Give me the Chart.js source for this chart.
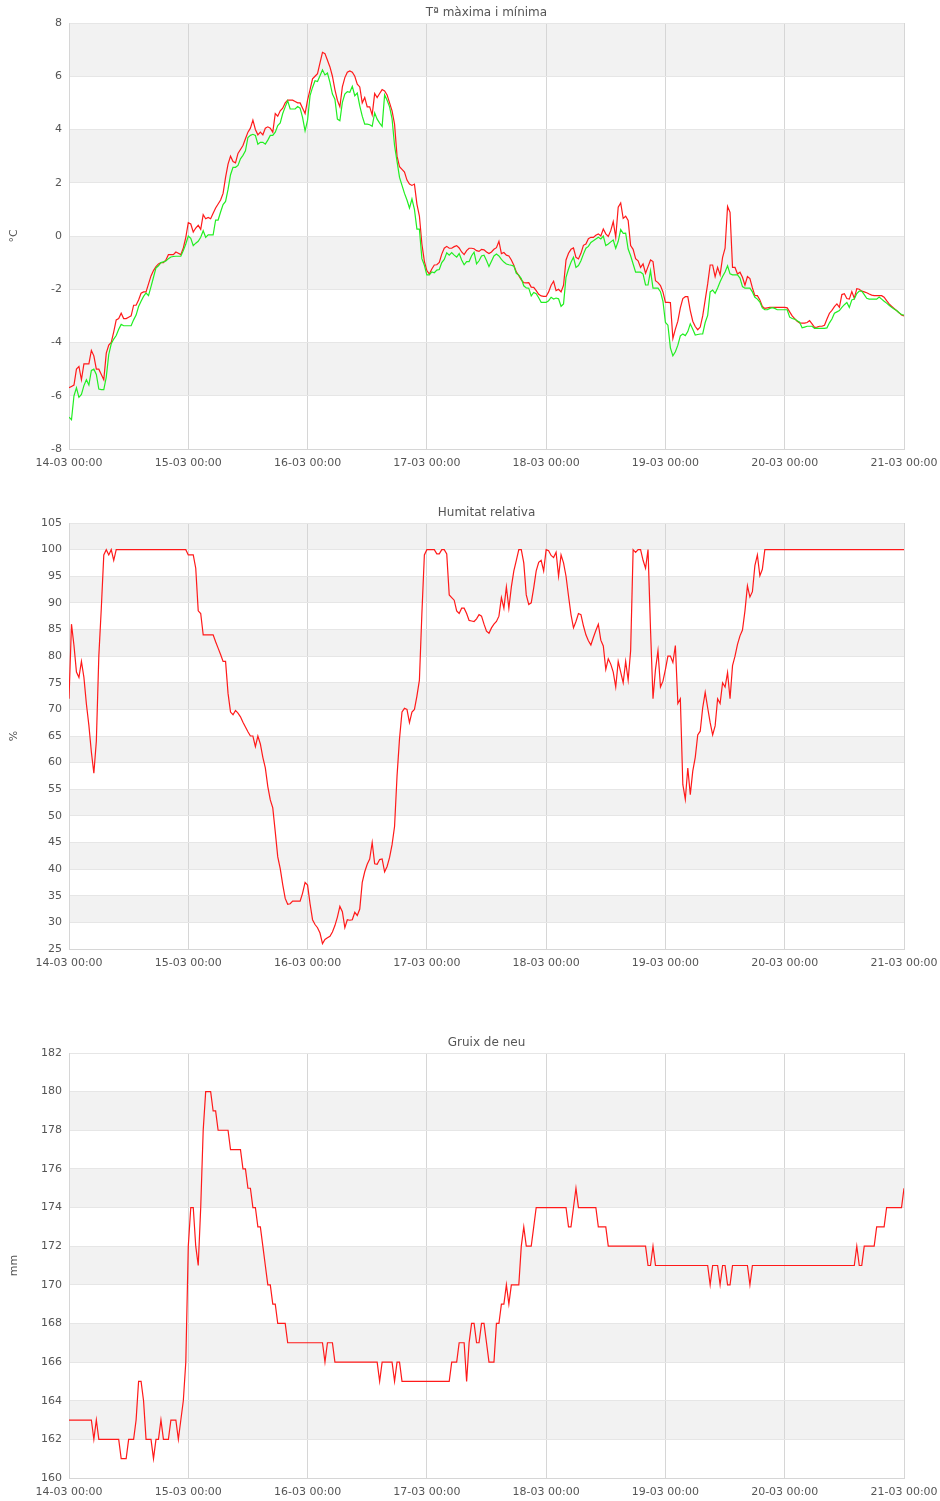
<!DOCTYPE html>
<html>
<head>
<meta charset="utf-8">
<title>Dades meteorològiques</title>
<script src="https://cdn.jsdelivr.net/npm/chart.js@4.4.1/dist/chart.umd.min.js"></script>
<style>
  body { margin: 0; background: #fff; }
  canvas { position: absolute; left: 0; }
</style>
</head>
<body>
<canvas id="tempChart" width="940" height="472" style="top:0"></canvas>
<canvas id="humChart" width="940" height="472" style="top:500px"></canvas>
<canvas id="snowChart" width="940" height="471" style="top:1030px"></canvas>
<script>
// one value every 30 minutes, from 14-03 00:00 to 21-03 00:00
const dayLabels = ['14-03 00:00', '15-03 00:00', '16-03 00:00', '17-03 00:00',
  '18-03 00:00', '19-03 00:00', '20-03 00:00', '21-03 00:00'];

const tempMax = [
  -5.7,-5.65,-5.6,-5.0,-4.9,-5.4,-4.8,-4.8,-4.8,-4.3,-4.5,-5.0,-5.0,-5.2,-5.4,-4.4,-4.1,-4.0,-3.6,-3.15,-3.1,-2.9,-3.1,-3.1,-3.05,-3.0,-2.6,-2.6,-2.4,-2.15,-2.1,-2.1,-1.8,-1.5,-1.3,-1.15,-1.05,-1.0,-1.0,-0.9,-0.7,-0.7,-0.7,-0.6,-0.65,-0.7,-0.45,-0.05,
  0.5,0.45,0.15,0.3,0.4,0.25,0.8,0.65,0.7,0.65,0.85,1.05,1.2,1.35,1.6,2.2,2.7,3.0,2.8,2.75,3.1,3.25,3.4,3.65,3.9,4.05,4.35,4.0,3.8,3.9,3.8,4.05,4.1,4.05,3.9,4.6,4.5,4.7,4.8,5.0,5.1,5.1,5.1,5.05,5.0,5.0,4.8,4.6,
  5.1,5.5,5.9,6.0,6.1,6.5,6.9,6.85,6.6,6.35,6.0,5.5,5.1,4.85,5.6,5.95,6.15,6.2,6.15,6.0,5.7,5.6,5.0,5.2,4.85,4.85,4.55,5.35,5.2,5.35,5.5,5.45,5.3,5.0,4.7,4.2,3.0,2.6,2.5,2.4,2.1,1.95,1.9,1.95,1.2,0.75,-0.3,-0.95,
  -1.3,-1.43,-1.24,-1.09,-1.08,-0.99,-0.68,-0.46,-0.39,-0.46,-0.46,-0.4,-0.36,-0.45,-0.6,-0.7,-0.55,-0.46,-0.46,-0.48,-0.55,-0.58,-0.5,-0.52,-0.6,-0.66,-0.6,-0.5,-0.44,-0.2,-0.66,-0.62,-0.72,-0.75,-0.9,-1.1,-1.35,-1.49,-1.65,-1.75,-1.76,-1.75,-1.92,-1.93,-2.05,-2.19,-2.25,-2.27,
  -2.27,-2.1,-1.85,-1.7,-2.05,-2.0,-2.1,-1.85,-0.9,-0.65,-0.5,-0.45,-0.8,-0.86,-0.65,-0.35,-0.3,-0.1,-0.05,-0.05,0.03,0.08,0.0,0.26,0.08,-0.02,0.2,0.54,-0.05,1.08,1.24,0.66,0.74,0.58,-0.36,-0.5,-0.85,-0.93,-1.18,-1.05,-1.4,-1.15,-0.9,-0.96,-1.68,-1.75,-1.86,-2.1,
  -2.49,-2.49,-2.5,-3.85,-3.5,-3.2,-2.7,-2.35,-2.28,-2.28,-2.8,-3.2,-3.4,-3.52,-3.42,-3.0,-2.4,-1.8,-1.09,-1.09,-1.53,-1.18,-1.46,-0.8,-0.46,1.11,0.89,-1.18,-1.18,-1.43,-1.36,-1.55,-1.85,-1.52,-1.6,-1.95,-2.24,-2.24,-2.4,-2.65,-2.72,-2.7,-2.68,-2.68,-2.68,-2.68,-2.68,-2.68,
  -2.68,-2.7,-2.85,-3.0,-3.1,-3.2,-3.26,-3.27,-3.27,-3.25,-3.18,-3.3,-3.43,-3.42,-3.39,-3.39,-3.35,-3.12,-2.9,-2.79,-2.65,-2.55,-2.68,-2.2,-2.17,-2.35,-2.37,-2.09,-2.34,-1.98,-2.0,-2.07,-2.1,-2.13,-2.18,-2.22,-2.24,-2.24,-2.24,-2.24,-2.3,-2.43,-2.55,-2.64,-2.72,-2.8,-2.88,-2.97,-3.0
];

const tempMin = [
  -6.8,-6.9,-6.0,-5.7,-6.06,-5.95,-5.62,-5.4,-5.6,-5.05,-5.0,-5.2,-5.75,-5.77,-5.77,-5.3,-4.45,-4.05,-3.87,-3.74,-3.5,-3.32,-3.37,-3.37,-3.37,-3.37,-3.15,-2.97,-2.65,-2.45,-2.27,-2.14,-2.24,-1.9,-1.55,-1.2,-1.12,-1.0,-0.97,-0.94,-0.85,-0.79,-0.77,-0.76,-0.76,-0.76,-0.55,-0.3,
  0.0,-0.09,-0.36,-0.27,-0.2,-0.05,0.2,-0.05,0.04,0.04,0.04,0.6,0.6,0.9,1.18,1.3,1.75,2.3,2.58,2.58,2.65,2.9,3.03,3.2,3.7,3.78,3.82,3.78,3.45,3.52,3.52,3.45,3.6,3.78,3.78,3.9,4.15,4.25,4.6,4.85,5.08,4.77,4.77,4.77,4.86,4.8,4.45,3.95,
  4.35,5.27,5.58,5.83,5.8,6.02,6.24,6.05,6.12,5.77,5.33,5.14,4.39,4.33,5.02,5.33,5.42,5.4,5.62,5.27,5.37,4.89,4.5,4.2,4.2,4.18,4.12,4.62,4.39,4.24,4.12,5.3,5.1,4.85,4.4,3.4,2.8,2.2,1.9,1.6,1.35,1.05,1.39,1.0,0.26,0.26,-0.85,-1.1,
  -1.46,-1.46,-1.35,-1.38,-1.28,-1.26,-1.0,-0.88,-0.63,-0.72,-0.62,-0.72,-0.79,-0.66,-0.9,-1.08,-0.96,-0.96,-0.74,-0.61,-1.05,-0.93,-0.75,-0.72,-0.92,-1.15,-0.95,-0.75,-0.68,-0.75,-0.88,-0.98,-1.05,-1.08,-1.1,-1.13,-1.4,-1.47,-1.6,-1.87,-1.95,-1.96,-2.25,-2.12,-2.17,-2.32,-2.49,-2.49,
  -2.49,-2.43,-2.3,-2.37,-2.33,-2.36,-2.64,-2.55,-1.55,-1.24,-0.99,-0.8,-1.18,-1.11,-0.93,-0.68,-0.46,-0.39,-0.24,-0.18,-0.11,-0.05,-0.11,0.0,-0.36,-0.3,-0.22,-0.15,-0.46,-0.2,0.24,0.1,0.11,-0.49,-0.74,-1.05,-1.36,-1.36,-1.36,-1.43,-1.84,-1.84,-1.3,-1.96,-1.96,-1.96,-2.09,-2.45,
  -3.25,-3.35,-4.2,-4.5,-4.35,-4.1,-3.75,-3.68,-3.74,-3.59,-3.3,-3.5,-3.72,-3.7,-3.68,-3.68,-3.25,-2.98,-2.1,-2.03,-2.15,-1.95,-1.72,-1.52,-1.35,-1.12,-1.42,-1.46,-1.46,-1.46,-1.58,-1.9,-1.96,-1.96,-1.96,-2.1,-2.3,-2.37,-2.48,-2.7,-2.77,-2.77,-2.72,-2.69,-2.72,-2.77,-2.77,-2.77,
  -2.77,-2.77,-3.05,-3.1,-3.12,-3.18,-3.24,-3.45,-3.42,-3.39,-3.39,-3.39,-3.47,-3.47,-3.47,-3.47,-3.47,-3.45,-3.26,-3.12,-2.9,-2.85,-2.8,-2.68,-2.58,-2.5,-2.68,-2.4,-2.37,-2.16,-2.07,-2.07,-2.2,-2.34,-2.37,-2.37,-2.37,-2.37,-2.29,-2.37,-2.45,-2.52,-2.6,-2.68,-2.74,-2.8,-2.88,-2.95,-2.97
];

const humidity = [
  72,86,82,77,76,79,76,71,67,62,58,64,80,89,99,100,99,100,98,100,100,100,100,100,100,100,100,100,100,100,100,100,100,100,100,100,100,100,100,100,100,100,100,100,100,100,100,100,
  99,99,99,96.5,88.5,88,84,84,84,84,84,82.7,81.5,80.3,79,79,73,69.5,69,69.8,69.3,68.6,67.6,66.7,65.8,65,65,63,65,63.5,61,59,55.5,53,51.5,47,42.3,40.1,37.1,34.5,33.4,33.5,34,34,34,34,35.5,37.5,
  37,33.5,30.5,29.6,29,28,26,26.8,27.1,27.4,28.2,29.4,31,33,32,29,30.5,30.4,30.5,31.9,31.3,32.5,37.5,39.5,40.9,41.9,45,41,40.9,41.8,41.9,39.5,40.5,42.2,44.6,48,57.5,64.5,69.5,70.2,70,67.5,69.5,70,72.5,75.5,88,99,
  100,100,100,100,99.2,99.2,100,100,99.2,91.5,91,90.5,88.5,88,89,89,88,86.7,86.6,86.5,87,87.8,87.5,86,84.7,84.3,85.3,86,86.5,87.5,91,89,93,89,93,96,98,100,100,97.5,91.5,89.7,90,92.8,96,97.6,98,96,
  100,99.8,98.9,98.5,99.5,95,99,97.5,95,91.3,87.8,85.3,86.5,88,87.8,85.7,84,82.9,82.1,83.5,84.8,86,83,81.9,77.5,79.5,78.5,77,74.2,79,77,75,79,75.5,81,100,99.5,100,100,98,96.5,100,85,72,77.5,81,74.2,75.3,
  77.5,80,80,78.8,82,71.1,72,55.9,53.1,59,54,58.4,61,65.2,65.9,70.3,73.2,70.3,67.5,65.2,66.9,72,71.1,75,74.2,76.9,72,78.2,80,82.2,83.8,84.9,88.5,93.2,91.1,92.1,97,99,95.1,96.3,100,100,100,100,100,100,100,100,
  100,100,100,100,100,100,100,100,100,100,100,100,100,100,100,100,100,100,100,100,100,100,100,100,100,100,100,100,100,100,100,100,100,100,100,100,100,100,100,100,100,100,100,100,100,100,100,100,100
];

const snowDepth = [
  163,163,163,163,163,163,163,163,163,163,162,163,162,162,162,162,162,162,162,162,162,161,161,161,162,162,162,163,165,165,164,162,162,162,161,162,162,163,162,162,162,163,163,163,162,163,164,166,
  172,174,174,172,171,174,178,180,180,180,179,179,178,178,178,178,178,177,177,177,177,177,176,176,175,175,174,174,173,173,172,171,170,170,169,169,168,168,168,168,167,167,167,167,167,167,167,167,
  167,167,167,167,167,167,167,166,167,167,167,166,166,166,166,166,166,166,166,166,166,166,166,166,166,166,166,166,166,165,166,166,166,166,166,165,166,166,165,165,165,165,165,165,165,165,165,165,
  165,165,165,165,165,165,165,165,165,165,166,166,166,167,167,167,165,167,168,168,167,167,168,168,167,166,166,166,168,168,169,169,170,169,170,170,170,170,172,173,172,172,172,173,174,174,174,174,
  174,174,174,174,174,174,174,174,174,173,173,174,175,174,174,174,174,174,174,174,174,173,173,173,173,172,172,172,172,172,172,172,172,172,172,172,172,172,172,172,172,171,171,172,171,171,171,171,
  171,171,171,171,171,171,171,171,171,171,171,171,171,171,171,171,171,171,170,171,171,171,170,171,171,170,170,171,171,171,171,171,171,171,170,171,171,171,171,171,171,171,171,171,171,171,171,171,
  171,171,171,171,171,171,171,171,171,171,171,171,171,171,171,171,171,171,171,171,171,171,171,171,171,171,171,171,171,172,171,171,172,172,172,172,172,173,173,173,173,174,174,174,174,174,174,174,175
];

// hours since 14-03 00:00 for each sample
const hours = tempMax.map((_, i) => i / 2);

Chart.defaults.font.family = 'DejaVu Sans';
Chart.defaults.animation = false;

// alternate grey bands between the y ticks
const bandsPlugin = {
  id: 'bands',
  beforeDraw(chart) {
    const { ctx, chartArea, scales } = chart;
    const y = scales.y;
    ctx.save();
    ctx.fillStyle = '#f2f2f2';
    for (let i = 1; i < y.ticks.length - 1; i += 2) {
      const top = y.getPixelForValue(y.ticks[i + 1].value);
      const bottom = y.getPixelForValue(y.ticks[i].value);
      ctx.fillRect(chartArea.left, top, chartArea.right - chartArea.left, bottom - top);
    }
    ctx.restore();
  }
};

function makeChart(id, title, yTitle, yMin, yMax, yStep, datasets) {
  return new Chart(document.getElementById(id), {
    type: 'line',
    data: { labels: hours, datasets: datasets },
    options: {
      responsive: false,
      layout: { padding: { left: 0, right: 36, top: 0, bottom: 0 } },
      elements: {
        point: { radius: 0 },
        line: { borderWidth: 1.2, tension: 0 }
      },
      plugins: {
        legend: { display: false },
        tooltip: { enabled: false },
        title: {
          display: true,
          text: title,
          color: '#555',
          fullSize: false,
          font: { size: 12, weight: 'normal' },
          padding: { top: 6, bottom: 2.6 }
        }
      },
      scales: {
        x: {
          type: 'linear',
          min: 0,
          max: 168,
          afterFit: s => {
            s.height = 23;
            s.paddingLeft = 0;
            s.paddingRight = 0;
          },
          grid: { color: '#d6d6d6', drawTicks: false },
          border: { color: '#d6d6d6' },
          ticks: {
            stepSize: 24,
            maxRotation: 0,
            autoSkip: false,
            padding: 8,
            color: '#555',
            font: { size: 11 },
            callback: v => dayLabels[v / 24]
          }
        },
        y: {
          min: yMin,
          max: yMax,
          afterFit: s => { s.width = 69; },
          grid: { color: '#e6e6e6', drawTicks: false },
          border: { color: '#d6d6d6' },
          ticks: { stepSize: yStep, padding: 7, color: '#555', font: { size: 11 } },
          title: {
            display: true,
            text: yTitle,
            color: '#555',
            font: { size: 11 },
            padding: { top: 8, bottom: 0 }
          }
        }
      }
    },
    plugins: [bandsPlugin]
  });
}

makeChart('tempChart', 'Tª màxima i mínima', '°C', -8, 8, 2, [
  { data: tempMin, borderColor: '#22ee22' },
  { data: tempMax, borderColor: '#ff1a1a' }
]);

makeChart('humChart', 'Humitat relativa', '%', 25, 105, 5, [
  { data: humidity, borderColor: '#ff1a1a' }
]);

makeChart('snowChart', 'Gruix de neu', 'mm', 160, 182, 2, [
  { data: snowDepth, borderColor: '#ff1a1a' }
]);
</script>
</body>
</html>
